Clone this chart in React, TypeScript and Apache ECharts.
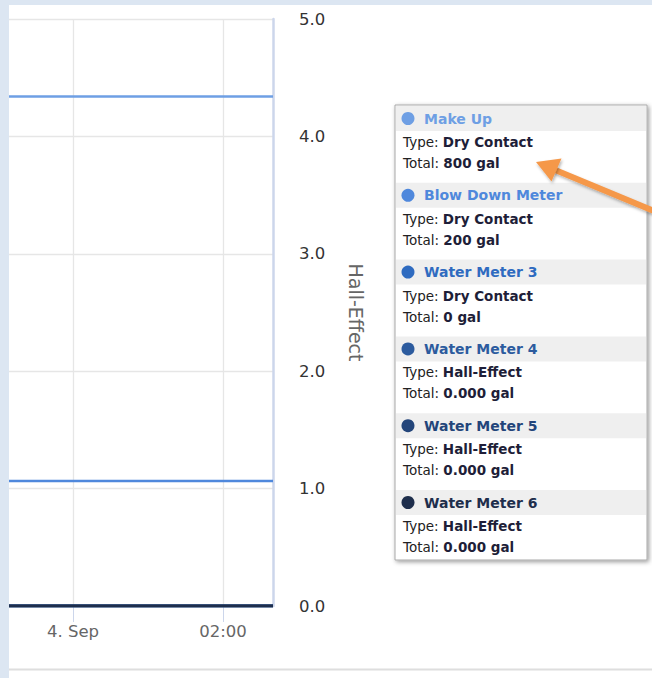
import React, { useEffect, useRef } from "react";
import * as echarts from "echarts";

// ---- data ----
const seriesNames = ["Make Up", "Blow Down Meter", "Water Meter 3", "Water Meter 4", "Water Meter 5", "Water Meter 6"];
const seriesTypes = ["Dry Contact", "Dry Contact", "Dry Contact", "Hall-Effect", "Hall-Effect", "Hall-Effect"];
const seriesTotals = ["800 gal", "200 gal", "0 gal", "0.000 gal", "0.000 gal", "0.000 gal"];
const seriesLevels = [4.34, 1.065, 0, 0, 0, 0];
const seriesColors = ["#6e9fe4", "#4f88dc", "#2f6bc0", "#2c5b9e", "#23457a", "#1e2e4c"];
const timeWindow = [new Date(2023, 8, 3, 23, 8, 48).getTime(), new Date(2023, 8, 4, 2, 40, 0).getTime()];
const xTickTimes = [new Date(2023, 8, 4, 0, 0, 0).getTime(), new Date(2023, 8, 4, 2, 0, 0).getTime()];
const yTicks = [0, 1, 2, 3, 4, 5];
const yAxisTitle = "Hall-Effect";

const FONT = "DejaVu Sans";

function fmtTime(v: number): string {
  const d = new Date(v);
  const months = ["Jan", "Feb", "Mar", "Apr", "May", "Jun", "Jul", "Aug", "Sep", "Oct", "Nov", "Dec"];
  if (d.getHours() === 0 && d.getMinutes() === 0) return `${d.getDate()}. ${months[d.getMonth()]}`;
  const p = (n: number) => (n < 10 ? "0" + n : "" + n);
  return `${p(d.getHours())}:${p(d.getMinutes())}`;
}

export default function App() {
  const ref = useRef<HTMLDivElement>(null);
  useEffect(() => {
    if (!ref.current) return;
    const chart = echarts.init(ref.current, undefined, { renderer: "svg" });

    const graphics: any[] = [];
    // page bands
    graphics.push({ type: "rect", z: 100, shape: { x: 0, y: 0, width: 652, height: 5 }, style: { fill: "#dce6f2" } });
    graphics.push({ type: "rect", z: 100, shape: { x: 0, y: 0, width: 9, height: 678 }, style: { fill: "#dce6f2" } });
    graphics.push({ type: "line", z: 100, shape: { x1: 9, y1: 669.5, x2: 652, y2: 669.5 }, style: { stroke: "#dedede", lineWidth: 2 } });

    // tooltip box
    const boxX = 395, boxY = 105, boxW = 252, boxH = 455;
    graphics.push({
      type: "rect", z: 100,
      shape: { x: boxX, y: boxY, width: boxW, height: boxH },
      style: { fill: "#ffffff", stroke: "#a8a8a8", lineWidth: 1, shadowBlur: 4, shadowOffsetX: 1.5, shadowOffsetY: 1.5, shadowColor: "rgba(0,0,0,0.4)" },
    });
    const blockH = 76.8;
    seriesNames.forEach((name, i) => {
      const top = boxY + 1 + i * blockH;
      graphics.push({ type: "rect", z: 101, shape: { x: boxX + 1, y: top, width: boxW - 2, height: 25 }, style: { fill: "#efefef" } });
      graphics.push({ type: "circle", z: 102, shape: { cx: 408, cy: top + 12.5, r: 6.5 }, style: { fill: seriesColors[i] } });
      graphics.push({
        type: "text", z: 102, x: 424, y: top + 12.5,
        style: { text: name, fill: seriesColors[i], font: `bold 14px "${FONT}"`, verticalAlign: "middle", align: "left" },
      });
      graphics.push({
        type: "text", z: 102, x: 403, y: top + 36,
        style: {
          text: `{l|Type: }{v|${seriesTypes[i]}}`, verticalAlign: "middle", align: "left",
          rich: {
            l: { fill: "#222", fontFamily: FONT, fontSize: 13.5 },
            v: { fill: "#1e1e38", fontFamily: FONT, fontSize: 13.5, fontWeight: "bold" },
          },
        },
      });
      graphics.push({
        type: "text", z: 102, x: 403, y: top + 57,
        style: {
          text: `{l|Total: }{v|${seriesTotals[i]}}`, verticalAlign: "middle", align: "left",
          rich: {
            l: { fill: "#222", fontFamily: FONT, fontSize: 13.5 },
            v: { fill: "#1e1e38", fontFamily: FONT, fontSize: 13.5, fontWeight: "bold" },
          },
        },
      });
    });

    // orange arrow annotation
    const arrowStyle = { shadowBlur: 3, shadowOffsetX: 1, shadowOffsetY: 2, shadowColor: "rgba(0,0,0,0.3)" };
    graphics.push({
      type: "polyline", z: 110,
      shape: { points: [[660, 213.5], [554, 169.5]] },
      style: { stroke: "#f5984a", lineWidth: 6, ...arrowStyle },
    });
    graphics.push({
      type: "polygon", z: 111,
      shape: { points: [[536, 162], [561.5, 158.5], [551.5, 181.5]] },
      style: { fill: "#f5984a", ...arrowStyle },
    });

    const series = seriesNames.map((name, i) => ({
      name,
      type: "line",
      showSymbol: false,
      symbol: "none",
      data: timeWindow.map((t) => [t, seriesLevels[i]]),
      lineStyle: { width: i >= 3 ? 3 : 2.6, color: seriesColors[i] },
      itemStyle: { color: seriesColors[i] },
    }));

    chart.setOption({
      animation: false,
      backgroundColor: "#ffffff",
      grid: { left: 9, right: 379, top: 19, bottom: 72, containLabel: false },
      xAxis: {
        type: "value",
        min: timeWindow[0],
        max: timeWindow[1],
        axisLine: { show: true, lineStyle: { color: "#ccd6eb", width: 1 } },
        axisTick: { show: true, customValues: xTickTimes, length: 16, lineStyle: { color: "#ccd6eb", width: 1 } },
        splitLine: { show: true, lineStyle: { color: "#e6e6e6", width: 1.3 } },
        axisLabel: {
          show: true,
          customValues: xTickTimes,
          margin: 17,
          color: "#666666",
          fontFamily: FONT,
          fontSize: 16.5,
          formatter: (v: number) => fmtTime(v),
        },
      },
      yAxis: {
        type: "value",
        position: "right",
        min: yTicks[0],
        max: yTicks[yTicks.length - 1],
        interval: 1,
        axisLine: { show: true, lineStyle: { color: "#ccd6eb", width: 2.5 } },
        axisTick: { show: false },
        splitLine: { show: true, lineStyle: { color: "#e6e6e6", width: 1.3 } },
        axisLabel: {
          margin: 26,
          color: "#333333",
          fontFamily: FONT,
          fontSize: 16.5,
          formatter: (v: number) => v.toFixed(1),
        },
        name: yAxisTitle,
        nameLocation: "middle",
        nameRotate: -90,
        nameGap: 73,
        nameTextStyle: { color: "#666666", fontFamily: FONT, fontSize: 19 },
      },
      series,
      graphic: graphics,
    });
    return () => chart.dispose();
  }, []);
  return <div ref={ref} style={{ position: "absolute", left: 0, top: 0, width: 652, height: 678 }} />;
}
